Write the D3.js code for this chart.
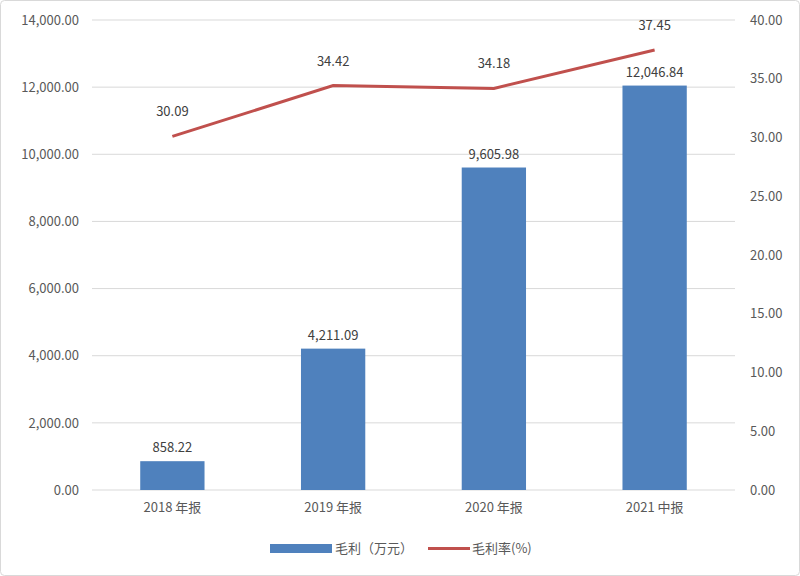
<!DOCTYPE html>
<html><head><meta charset="utf-8">
<script src="https://cdn.jsdelivr.net/npm/d3@7"></script>
<style>body{margin:0;background:#fff}text{font-family:"Microsoft YaHei","Noto Sans CJK SC","Liberation Sans",sans-serif}</style>
</head><body>
<svg id="c" width="800" height="576"></svg>
<script>
const categories = ["2018 年报","2019 年报","2020 年报","2021 中报"];
const grossProfit = [858.22, 4211.09, 9605.98, 12046.84];
const grossMargin = [30.09, 34.42, 34.18, 37.45];
const leftTicks = [0,2000,4000,6000,8000,10000,12000,14000];
const rightTicks = [0,5,10,15,20,25,30,35,40];

const svg = d3.select("#c");
svg.append("rect").attr("x",0.5).attr("y",0.5).attr("width",799).attr("height",575).attr("rx",4).attr("fill","#fff").attr("stroke","#d9d9d9");
const L=92,R=735,T=20,B=490;
const x=d3.scaleBand().domain(categories).range([L,R]).paddingInner(0.6).paddingOuter(0.3);
const y=d3.scaleLinear().domain([0,14000]).range([B,T]);
const y2=d3.scaleLinear().domain([0,40]).range([B,T]);
const fmt=d3.format(",.2f");

svg.append("g").selectAll("line").data(leftTicks).join("line")
 .attr("x1",L).attr("x2",R).attr("y1",d=>y(d)).attr("y2",d=>y(d)).attr("stroke","#d9d9d9");

const ga=svg.append("g").attr("transform",`translate(${L-10},0)`).call(d3.axisLeft(y).tickValues(leftTicks).tickFormat(fmt).tickSize(0));
ga.select(".domain").remove();
ga.selectAll("text").attr("font-size",13).attr("fill","#595959");
const gr=svg.append("g").attr("transform",`translate(${R+12},0)`).call(d3.axisRight(y2).tickValues(rightTicks).tickFormat(d3.format(".2f")).tickSize(0));
gr.select(".domain").remove();
gr.selectAll("text").attr("font-size",13).attr("fill","#595959");
const gx=svg.append("g").attr("transform",`translate(0,${B+10})`).call(d3.axisBottom(x).tickSize(0));
gx.select(".domain").remove();
gx.selectAll("text").attr("font-size",13).attr("fill","#595959");

svg.selectAll(".bar").data(grossProfit).join("rect")
 .attr("x",(d,i)=>x(categories[i])).attr("width",x.bandwidth())
 .attr("y",d=>y(d)).attr("height",d=>B-y(d)).attr("fill","#4f81bd");
svg.selectAll(".bl").data(grossProfit).join("text")
 .attr("x",(d,i)=>x(categories[i])+x.bandwidth()/2).attr("y",d=>y(d)-9)
 .attr("text-anchor","middle").attr("font-size",13).attr("fill","#404040").text(fmt);

const cx=(d,i)=>x(categories[i])+x.bandwidth()/2;
svg.append("path").datum(grossMargin)
 .attr("d",d3.line().x(cx).y(d=>y2(d))).attr("fill","none").attr("stroke","#c0504d").attr("stroke-width",3);
svg.selectAll(".ll").data(grossMargin).join("text")
 .attr("x",cx).attr("y",d=>y2(d)-20).attr("text-anchor","middle").attr("font-size",13).attr("fill","#404040").text(d3.format(".2f"));

const lg=svg.append("g");
lg.append("rect").attr("x",270).attr("y",544).attr("width",62).attr("height",9).attr("fill","#4f81bd");
lg.append("text").attr("x",335).attr("y",553).attr("font-size",13).attr("fill","#595959").text("毛利（万元）");
lg.append("line").attr("x1",428).attr("x2",470).attr("y1",548.5).attr("y2",548.5).attr("stroke","#c0504d").attr("stroke-width",3);
lg.append("text").attr("x",472).attr("y",553).attr("font-size",13).attr("fill","#595959").text("毛利率(%)");
</script>
</body></html>
